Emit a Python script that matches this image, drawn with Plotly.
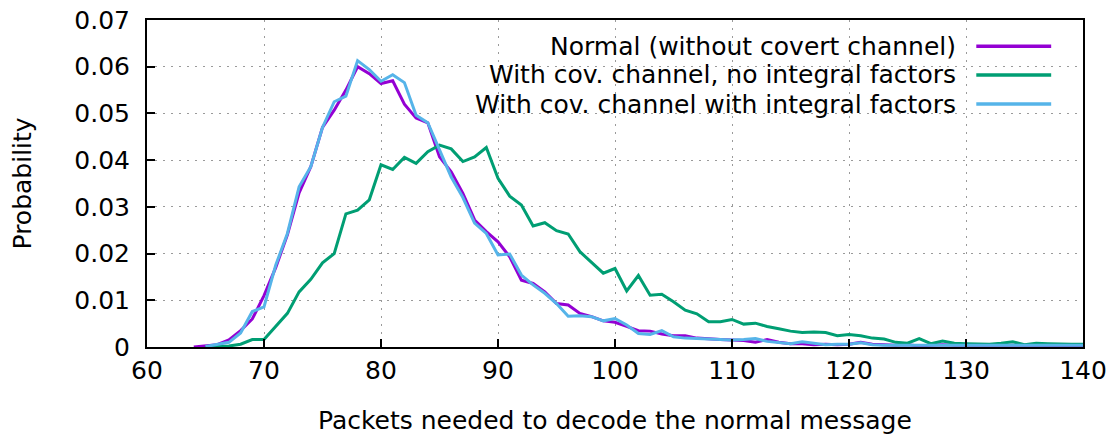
import plotly.graph_objects as go

# Packets needed to decode the normal message
packets = list(range(64, 141))

# Probability per packet count, one list per scenario (64 .. 140)
normal = [
    0.0000, 0.0002, 0.0005, 0.0015, 0.0035, 0.0060, 0.0110, 0.0170, 0.0240, 0.0330,
    0.0386, 0.0470, 0.0507, 0.0550, 0.0600, 0.0585, 0.0564, 0.0570, 0.0520, 0.0490,
    0.0480, 0.0407, 0.0375, 0.0329, 0.0272, 0.0247, 0.0225, 0.0193, 0.0143, 0.0136,
    0.0118, 0.0093, 0.0090, 0.0072, 0.0065, 0.0056, 0.0053, 0.0044, 0.0035, 0.0034,
    0.0028, 0.0024, 0.0024, 0.0019, 0.0017, 0.0016, 0.0015, 0.0014, 0.0010, 0.0016,
    0.0010, 0.0007, 0.0007, 0.0005, 0.0006, 0.0005, 0.0006, 0.0010, 0.0006, 0.0005,
    0.0004, 0.0005, 0.0002, 0.0004, 0.0005, 0.0004, 0.0004, 0.0004, 0.0003, 0.0004,
    0.0004, 0.0003, 0.0004, 0.0004, 0.0003, 0.0003, 0.0003,
]
no_integral = [
    None, 0.0001, 0.0001, 0.0002, 0.0006, 0.0016, 0.0016, 0.0044, 0.0072, 0.0118,
    0.0145, 0.0180, 0.0200, 0.0285, 0.0293, 0.0315, 0.0390, 0.0380, 0.0406, 0.0393,
    0.0418, 0.0432, 0.0424, 0.0397, 0.0407, 0.0427, 0.0361, 0.0323, 0.0304, 0.0259,
    0.0266, 0.0249, 0.0242, 0.0204, 0.0180, 0.0158, 0.0168, 0.0120, 0.0153, 0.0111,
    0.0113, 0.0097, 0.0079, 0.0071, 0.0054, 0.0054, 0.0059, 0.0049, 0.0051, 0.0044,
    0.0039, 0.0034, 0.0031, 0.0032, 0.0031, 0.0024, 0.0027, 0.0024, 0.0019, 0.0017,
    0.0010, 0.0008, 0.0018, 0.0007, 0.0013, 0.0008, 0.0007, 0.0006, 0.0006, 0.0008,
    0.0011, 0.0005, 0.0008, 0.0007, 0.0006, 0.0006, 0.0006,
]
with_integral = [
    None, 0.0001, 0.0006, 0.0010, 0.0030, 0.0076, 0.0086, 0.0175, 0.0243, 0.0343,
    0.0386, 0.0470, 0.0525, 0.0537, 0.0613, 0.0594, 0.0569, 0.0583, 0.0566, 0.0496,
    0.0480, 0.0420, 0.0364, 0.0320, 0.0265, 0.0243, 0.0197, 0.0199, 0.0154, 0.0133,
    0.0115, 0.0093, 0.0066, 0.0067, 0.0065, 0.0056, 0.0061, 0.0047, 0.0029, 0.0027,
    0.0035, 0.0022, 0.0019, 0.0018, 0.0017, 0.0016, 0.0015, 0.0016, 0.0018, 0.0012,
    0.0009, 0.0007, 0.0011, 0.0008, 0.0005, 0.0006, 0.0006, 0.0009, 0.0005, 0.0004,
    0.0004, 0.0003, 0.0004, 0.0003, 0.0004, 0.0004, 0.0003, 0.0004, 0.0004, 0.0003,
    0.0004, 0.0003, 0.0004, 0.0004, 0.0003, 0.0004, 0.0004,
]

series = [
    ("Normal (without covert channel)", normal, "#9400d3"),
    ("With cov. channel, no integral factors", no_integral, "#009e73"),
    ("With cov. channel with integral factors", with_integral, "#56b4e9"),
]

x_ticks = [60, 70, 80, 90, 100, 110, 120, 130, 140]
y_ticks = [0, 0.01, 0.02, 0.03, 0.04, 0.05, 0.06, 0.07]
y_tick_text = ["0", "0.01", "0.02", "0.03", "0.04", "0.05", "0.06", "0.07"]

FONT = "DejaVu Sans"
FS = 25
fig = go.Figure()

for name, values, color in series:
    fig.add_trace(go.Scatter(
        x=packets, y=values, mode="lines", name=name,
        line=dict(color=color, width=3), connectgaps=False,
        showlegend=False,
    ))

# Opaque key box: hides the grid but sits under the curves
shapes = [dict(
    type="rect", xref="paper", yref="paper",
    x0=0.198, x1=0.982, y0=0.682, y1=0.966,
    fillcolor="white", line=dict(width=0), layer="between",
)]
annotations = []
key_rows = [0.920, 0.832, 0.743]
for (name, _, color), ky in zip(series, key_rows):
    annotations.append(dict(
        xref="paper", yref="paper", x=0.866, y=ky, text=name,
        showarrow=False, xanchor="right", yanchor="middle",
        font=dict(family=FONT, size=FS, color="black"),
    ))
    shapes.append(dict(
        type="line", xref="paper", yref="paper",
        x0=0.886, x1=0.966, y0=ky, y1=ky,
        line=dict(color=color, width=3.5), layer="above",
    ))

# Axis titles
annotations.append(dict(
    xref="paper", yref="paper", x=0.5, y=0, yshift=-73,
    text="Packets needed to decode the normal message", showarrow=False,
    xanchor="center", yanchor="middle",
    font=dict(family=FONT, size=FS, color="black"),
))
annotations.append(dict(
    xref="paper", yref="paper", x=0, y=0.5, xshift=-125,
    text="Probability", showarrow=False, textangle=-90,
    xanchor="center", yanchor="middle",
    font=dict(family=FONT, size=FS, color="black"),
))

axis_common = dict(
    showline=True, linecolor="black", linewidth=2, mirror=True,
    ticks="inside", ticklen=8, tickwidth=2, tickcolor="black",
    showgrid=True, gridcolor="#9a9a9a", gridwidth=1.3, griddash="1.5px,6.5px",
    zeroline=False, automargin=False,
    tickfont=dict(family=FONT, size=FS, color="black"),
)

fig.update_xaxes(
    range=[60, 140], tickmode="array", tickvals=x_ticks,
    ticktext=[str(v) for v in x_ticks], ticklabelstandoff=0,
    **axis_common,
)
fig.update_yaxes(
    range=[0, 0.07], tickmode="array", tickvals=y_ticks, ticktext=y_tick_text,
    ticklabelstandoff=10,
    **axis_common,
)

fig.update_layout(
    width=1114, height=435,
    margin=dict(l=147, r=31, t=20, b=88),
    paper_bgcolor="white", plot_bgcolor="white",
    shapes=shapes, annotations=annotations,
    font=dict(family=FONT, size=FS, color="black"),
)

fig.write_html("out.html")
